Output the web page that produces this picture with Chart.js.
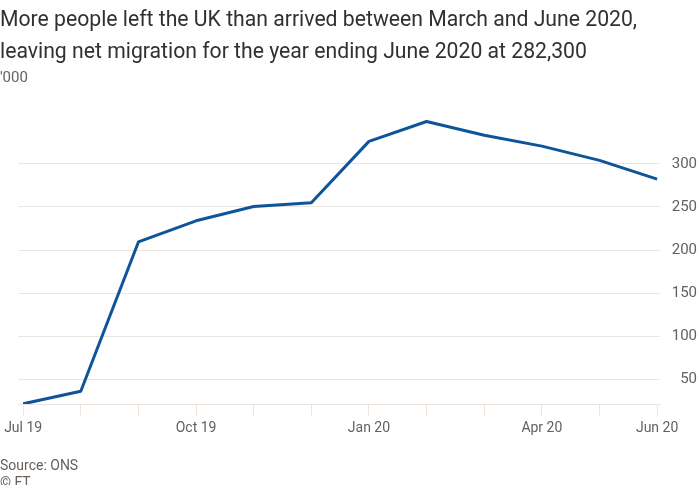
<!DOCTYPE html>
<html lang="en">
<head>
    <meta charset="UTF-8">
    <title>Net migration to the UK</title>
    <script src="https://cdn.jsdelivr.net/npm/chart.js"></script>
    <style>
        body {
            margin: 0;
            background: #fff;
            font-family: Roboto, Arial, sans-serif;
            color: #33302e;
        }
        #wrap {
            position: relative;
            width: 700px;
            height: 485px;
            overflow: hidden;
        }
        #title {
            position: absolute;
            left: 0;
            top: 3px;
            font-size: 21.2px;
            line-height: 32px;
        }
        #units {
            position: absolute;
            left: 0;
            top: 68px;
            font-size: 15px;
            color: #66605c;
        }
        #source {
            position: absolute;
            left: 0;
            top: 457px;
            font-size: 14px;
            line-height: 17px;
            color: #66605c;
        }
        canvas {
            position: absolute;
            left: 0;
            top: 0;
        }
    </style>
</head>
<body>
<div id="wrap">
    <canvas id="migrationChart" width="700" height="485"></canvas>
    <div id="title">More people left the UK than arrived between March and June 2020,<br>leaving net migration for the year ending June 2020 at 282,300</div>
    <div id="units">'000</div>
    <div id="source">Source: ONS<br>© FT</div>
</div>

<script>
    // year ending each month, thousands
    const months = ['Jul 19', 'Aug 19', 'Sep 19', 'Oct 19', 'Nov 19', 'Dec 19',
                    'Jan 20', 'Feb 20', 'Mar 20', 'Apr 20', 'May 20', 'Jun 20'];
    const netMigration = [22, 36.5, 209.5, 234, 250.5, 255, 326, 349, 333, 320.5, 304, 282.3];
    const labelledMonths = ['Jul 19', 'Oct 19', 'Jan 20', 'Apr 20', 'Jun 20'];
    const yTicks = [50, 100, 150, 200, 250, 300];

    const gridColor = '#ebe5de';
    const textColor = '#66605c';
    Chart.defaults.font.family = 'Roboto, Arial, sans-serif';

    const points = netMigration.map((v, i) => ({ x: i, y: v }));

    new Chart(document.getElementById('migrationChart'), {
        type: 'line',
        data: {
            datasets: [{
                data: points,
                borderColor: '#0f5499',
                borderWidth: 3,
                pointRadius: 0,
                tension: 0,
                borderJoinStyle: 'round'
            }]
        },
        options: {
            responsive: false,
            animation: false,
            layout: {
                padding: { top: 112, right: 3, bottom: 47, left: 18 }
            },
            plugins: {
                legend: { display: false },
                tooltip: { enabled: false }
            },
            scales: {
                x: {
                    type: 'linear',
                    min: -0.08,
                    max: 11.05,
                    afterBuildTicks: scale => {
                        scale.ticks = months.map((m, i) => ({ value: i }));
                    },
                    afterFit: scale => { scale.height = 34; },
                    grid: {
                        drawOnChartArea: false,
                        color: gridColor,
                        tickLength: 12,
                        tickWidth: 1
                    },
                    border: { display: true, color: gridColor, width: 1 },
                    ticks: {
                        autoSkip: false,
                        maxRotation: 0,
                        padding: 4,
                        color: textColor,
                        font: { size: 14 },
                        callback: value => labelledMonths.includes(months[value]) ? months[value] : ''
                    }
                },
                y: {
                    position: 'right',
                    min: 21.8,
                    max: 360,
                    afterBuildTicks: scale => {
                        scale.ticks = yTicks.map(v => ({ value: v }));
                    },
                    afterFit: scale => { scale.width = 37; },
                    grid: {
                        color: gridColor,
                        drawTicks: false
                    },
                    border: { display: false },
                    ticks: {
                        crossAlign: 'far',
                        padding: 0,
                        color: textColor,
                        font: { size: 15 }
                    }
                }
            }
        }
    });
</script>
</body>
</html>
